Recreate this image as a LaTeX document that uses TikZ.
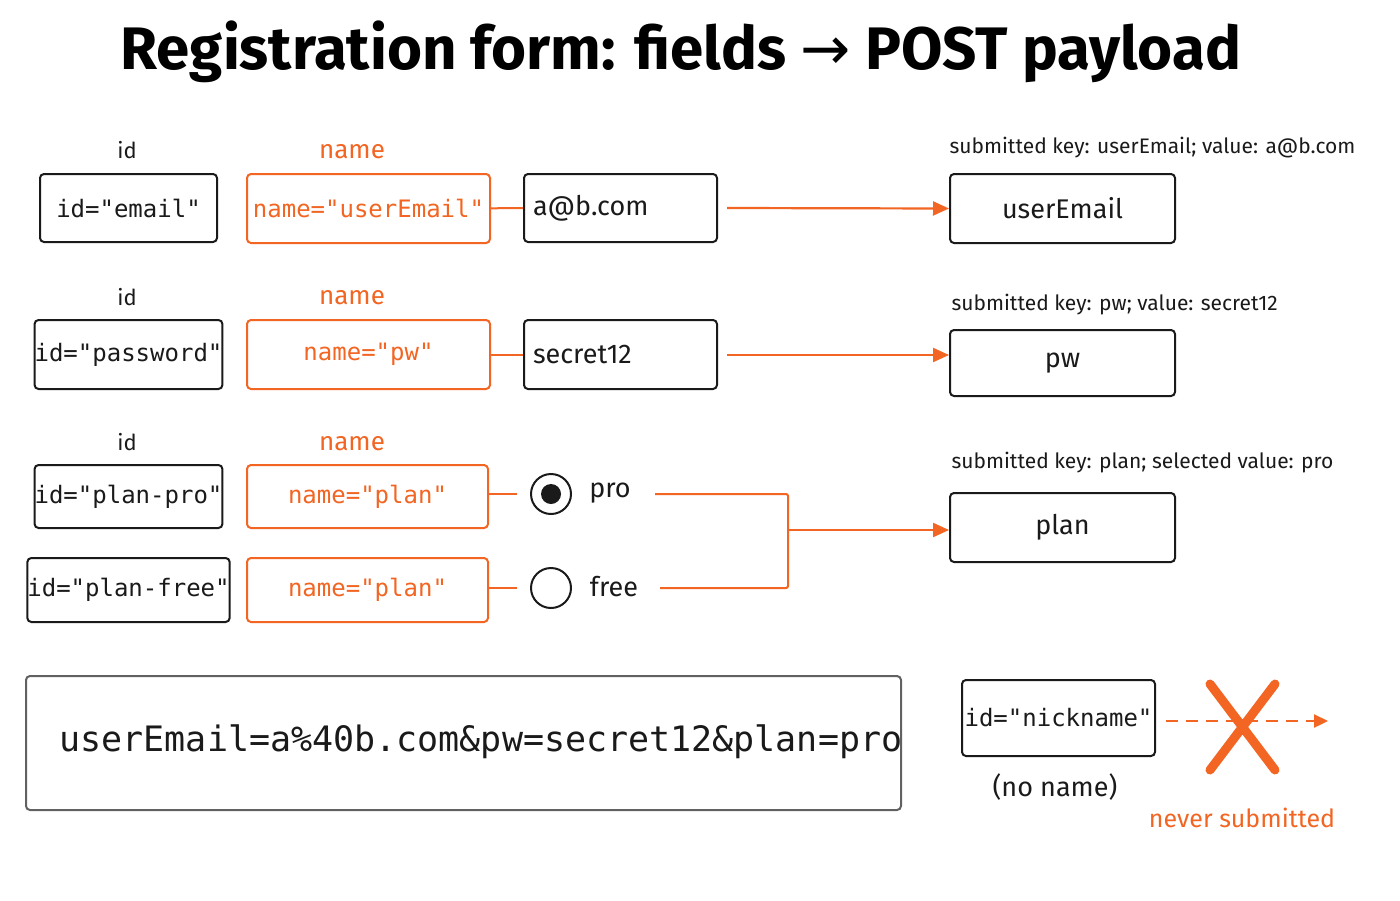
\documentclass[tikz,border=0pt]{standalone}
\usepackage{fontspec}
\setmainfont{Fira Sans}
\setmonofont{DejaVu Sans Mono}
\newfontfamily\arrowfont{DejaVu Sans}
\usetikzlibrary{arrows.meta}
\definecolor{org}{HTML}{F26522}
\definecolor{ink}{HTML}{1A1A1A}
\begin{document}
\begin{tikzpicture}[x=1pt,y=-1pt,
  box/.style={draw=ink,line width=2pt,rounded corners=4pt,inner sep=0pt},
  obox/.style={draw=org,line width=2pt,rounded corners=4pt,inner sep=0pt},
  mono/.style={font=\ttfamily\fontsize{24}{28}\selectfont,text=ink},
  monoo/.style={font=\ttfamily\fontsize{24}{28}\selectfont,text=org},
  sans/.style={font=\fontsize{27}{32}\selectfont,text=ink},
  lab/.style={font=\fontsize{22}{26}\selectfont,text=ink},
  olab/.style={font=\fontsize{26}{30}\selectfont,text=org},
  sub/.style={font=\fontsize{21}{25}\selectfont,text=ink,anchor=west},
  oline/.style={draw=org,line width=2pt},
  arr/.style={draw=org,line width=2.2pt,-{Triangle[length=16pt,width=14pt]}}]
\useasboundingbox (0,0) rectangle (1400,900);
\fill[white] (0,0) rectangle (1400,900);
\node (title) at (681,52) {\fontsize{60}{70}\selectfont\bfseries Registration form: fields {\arrowfont\mdseries →} POST payload};
% row 1
\node[lab] (idl1) at (127,150) {id};
\node[olab] (nl1) at (352,152) {name};
\node[box,minimum width=177pt,minimum height=68pt,mono] (id1) at (128.5,208) {id="email"};
\node[obox,minimum width=243pt,minimum height=69pt,monoo] (n1) at (368.5,208.5) {name="userEmail"};
\node[box,minimum width=193pt,minimum height=68pt,sans,text width=175pt,align=left] (v1) at (620.5,208) {a@b.com};
\draw[oline] (n1) -- (v1);
\coordinate (a1) at (727,208);
\node[box,minimum width=225pt,minimum height=69pt,sans] (k1) at (1062.5,208.5) {userEmail};
\draw[arr] (a1) -- (k1.west);
\node[sub] (s1) at (946,148) {submitted key: userEmail; value: a@b.com};
% row 2
\node[lab] (idl2) at (127,297) {id};
\node[olab] (nl2) at (352,298) {name};
\node[box,minimum width=177pt,minimum height=69pt,mono] (id2) at (128.5,354.5) {id="password"};
\node[obox,minimum width=243pt,minimum height=69pt,monoo] (n2) at (368.5,354.5) {name="pw"};
\node[box,minimum width=193pt,minimum height=69pt,sans,text width=175pt,align=left] (v2) at (620.5,354.5) {secret12};
\draw[oline] (n2) -- (v2);
\coordinate (a2) at (727,355);
\node[box,minimum width=225pt,minimum height=66pt,sans] (k2) at (1062.5,363) {pw};
\draw[arr] (a2) -- (k2.west|-a2);
\node[sub] (s2) at (948,305) {submitted key: pw; value: secret12};
% row 3
\node[lab] (idl3) at (127,442) {id};
\node[olab] (nl3) at (352,444) {name};
\node[box,minimum width=177pt,minimum height=63pt,mono] (id3) at (128.5,496.5) {id="plan-pro"};
\node[obox,minimum width=241pt,minimum height=63pt,monoo] (n3) at (367.5,496.5) {name="plan"};
\node[draw=ink,line width=2pt,circle,minimum size=40pt,inner sep=0pt] (r1) at (551,494) {};
\fill[ink] (r1.center) circle (10pt);
\node[sans] (pro) at (610,493) {pro};
\draw[oline] (n3.east|-r1) -- ++(28,0) coordinate (r1w);
% row 4
\node[box,minimum width=177pt,minimum height=64pt,mono] (id4) at (128.5,590) {id="plan-free"};
\node[obox,minimum width=241pt,minimum height=64pt,monoo] (n4) at (367.5,590) {name="plan"};
\node[draw=ink,line width=2pt,circle,minimum size=40pt,inner sep=0pt] (r2) at (551,588) {};
\node[sans] (free) at (614,587) {free};
\draw[oline] (n4.east|-r2) -- ++(28,0) coordinate (r2w);
\coordinate (j) at (788,530);
\draw[oline,rounded corners=2pt] (655,494) -| (j) |- (660,588);
\node[box,minimum width=225pt,minimum height=69pt,sans] (k3) at (1062.5,527.5) {plan};
\draw[arr] (j) -- (k3.west|-j);
\node[sub] (s3) at (948,463) {submitted key: plan; selected value: pro};
% payload
\node[draw=gray!70!ink,line width=2pt,rounded corners=4pt,minimum width=875pt,minimum height=134pt] (pay) at (463.5,743) {};
\node[anchor=west,font=\ttfamily\fontsize{35}{40}\selectfont,text=ink] (payt) at (56,742) {userEmail=a\%40b.com\&pw=secret12\&plan=pro};
% nickname
\node[box,minimum width=193pt,minimum height=76pt,mono] (nick) at (1058.5,718) {id="nickname"};
\node[sans] (nn) at (1055,787) {(no name)};
\coordinate (de) at (1328,721);
\draw[draw=org,line width=2.2pt,dashed,dash pattern=on 12pt off 8pt,-{Triangle[length=14pt,width=13pt]}] (nick.east|-de) ++(10,0) -- (de);
\draw[draw=org,line width=9pt,line cap=round] (1210,684) -- (1275,770) (1275,684) -- (1210,770);
\node[olab,font=\fontsize{25}{30}\selectfont] (never) at (1242,818) {never submitted};
\end{tikzpicture}
\end{document}
